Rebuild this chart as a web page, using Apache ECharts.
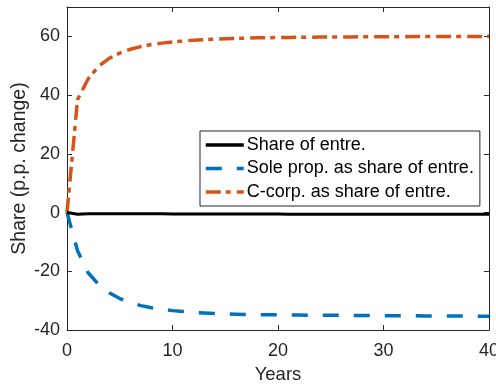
<!DOCTYPE html>
<html>
<head>
<meta charset="utf-8">
<script src="https://cdn.jsdelivr.net/npm/echarts@6/dist/echarts.min.js"></script>
<style>html,body{margin:0;padding:0;background:#fff}#c{width:496px;height:385px}</style>
</head>
<body>
<div id="c"></div>
<script>
var years = [0,1,2,3,4,5,6,7,8,9,10,11,12,13,14,15,16,17,18,19,20,21,22,23,24,25,26,27,28,29,30,31,32,33,34,35,36,37,38,39,40];
var shareEntre = [0,-0.6,-0.45,-0.4,-0.4,-0.4,-0.4,-0.42,-0.44,-0.45,-0.46,-0.47,-0.48,-0.49,-0.5,-0.5,-0.51,-0.52,-0.52,-0.53,-0.53,-0.54,-0.54,-0.55,-0.55,-0.55,-0.56,-0.56,-0.56,-0.57,-0.57,-0.57,-0.58,-0.58,-0.58,-0.59,-0.59,-0.59,-0.6,-0.6,-0.6];
var soleProp = [0,-13,-20.5,-24.5,-27.3,-29.3,-30.7,-31.7,-32.4,-33.0,-33.4,-33.7,-34.0,-34.2,-34.4,-34.5,-34.6,-34.7,-34.75,-34.8,-34.85,-34.9,-34.92,-34.95,-34.98,-35.0,-35.02,-35.05,-35.07,-35.1,-35.12,-35.14,-35.16,-35.18,-35.2,-35.22,-35.24,-35.25,-35.27,-35.28,-35.3];
var cCorp = [0,38.5,45.5,49.8,52.5,54.3,55.6,56.5,57.2,57.7,58.1,58.4,58.7,58.9,59.05,59.2,59.3,59.4,59.5,59.55,59.6,59.65,59.7,59.72,59.75,59.78,59.8,59.82,59.84,59.86,59.88,59.9,59.91,59.92,59.93,59.94,59.95,59.96,59.97,59.98,60];
var seriesNames = ['Share of entre.','Sole prop. as share of entre.','C-corp. as share of entre.'];
var xTicks = [0,10,20,30,40];
var yTicks = [-40,-20,0,20,40,60];

function pairs(v){ return years.map(function(y,i){ return [y, v[i]]; }); }
var txt = '#262626';
var font = 'Liberation Sans, Arial, Helvetica, sans-serif';
var chart = echarts.init(document.getElementById('c'), null, {renderer:'canvas'});
var axLine = {show:true, onZero:false, lineStyle:{color:txt, width:1}};
var tickIn = {show:true, inside:true, length:5, lineStyle:{color:txt, width:1}};
chart.setOption({
  animation:false,
  backgroundColor:'#fff',
  grid:{left:67, right:7, top:7, bottom:55, containLabel:false, outerBoundsMode:'none'},
  xAxis:[
    {type:'value', min:xTicks[0], max:xTicks[xTicks.length-1], interval:10, position:'bottom',
     axisLine:axLine, axisTick:tickIn, splitLine:{show:false},
     axisLabel:{color:txt, fontSize:18, fontFamily:font, margin:12},
     name:'Years', nameLocation:'middle', nameGap:35, nameMoveOverlap:false,
     nameTextStyle:{color:txt, fontSize:18.5, fontFamily:font}},
    {type:'value', min:0, max:40, interval:10, position:'top',
     axisLine:axLine, axisTick:tickIn, axisLabel:{show:false}, splitLine:{show:false}}
  ],
  yAxis:[
    {type:'value', min:yTicks[0], max:70, interval:20, position:'left',
     axisLine:axLine, axisTick:tickIn, splitLine:{show:false},
     axisLabel:{color:txt, fontSize:18, fontFamily:font, margin:7, showMaxLabel:false},
     name:'Share (p.p. change)', nameLocation:'middle', nameGap:37, nameRotate:90, nameMoveOverlap:false,
     nameTextStyle:{color:txt, fontSize:19.5, fontFamily:font}},
    {type:'value', min:-40, max:70, interval:20, position:'right',
     axisLine:axLine, axisTick:tickIn, axisLabel:{show:false}, splitLine:{show:false}}
  ],
  legend:{
    orient:'vertical', left:200, top:131,
    data:seriesNames,
    itemWidth:38, itemHeight:14, itemGap:5.5,
    padding:[5,6,5,4],
    borderColor:txt, borderWidth:1, backgroundColor:'#fff',
    itemStyle:{opacity:0},
    lineStyle:{width:3.5},
    textStyle:{color:'#000', fontSize:18, fontFamily:font, padding:[0,0,0,-2]}
  },
  series:[
    {name:seriesNames[0], type:'line', data:pairs(shareEntre), showSymbol:false, symbol:'none',
     lineStyle:{color:'#000', width:3}, itemStyle:{color:'#000'}, z:3},
    {name:seriesNames[1], type:'line', data:pairs(soleProp), showSymbol:false, symbol:'none',
     lineStyle:{color:'#0072BD', width:3.5, type:[16,15]}, itemStyle:{color:'#0072BD'}, z:2},
    {name:seriesNames[2], type:'line', data:pairs(cCorp), showSymbol:false, symbol:'none',
     lineStyle:{color:'#D95319', width:3.5, type:[15,5,5,6]}, itemStyle:{color:'#D95319'}, z:2}
  ]
});
</script>
</body>
</html>
